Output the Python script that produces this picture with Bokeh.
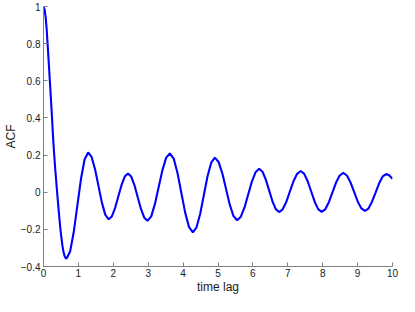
from bokeh.plotting import figure
from bokeh.models import FixedTicker, Range1d
from bokeh.embed import file_html
from bokeh.resources import INLINE

# ---- data ----
lag = [0.00, 0.03, 0.06, 0.09, 0.12, 0.15, 0.18, 0.21, 0.24, 0.27, 0.30, 0.33,
       0.36, 0.39, 0.42, 0.45, 0.48, 0.51, 0.54, 0.57, 0.60, 0.63, 0.66,
       0.763, 0.867, 0.970, 1.073, 1.177, 1.28,
       1.378, 1.477, 1.575, 1.673, 1.772, 1.87,
       1.962, 2.053, 2.145, 2.237, 2.328, 2.42,
       2.513, 2.607, 2.700, 2.793, 2.887, 2.98,
       3.087, 3.193, 3.300, 3.407, 3.513, 3.62,
       3.73, 3.84, 3.95, 4.06, 4.17, 4.28,
       4.385, 4.49, 4.595, 4.70, 4.805, 4.91,
       5.017, 5.123, 5.230, 5.337, 5.443, 5.55,
       5.655, 5.76, 5.865, 5.97, 6.075, 6.18,
       6.275, 6.37, 6.465, 6.56, 6.655, 6.75,
       6.853, 6.957, 7.06, 7.163, 7.267, 7.37,
       7.47, 7.57, 7.67, 7.77, 7.87, 7.97,
       8.073, 8.177, 8.28, 8.383, 8.487, 8.59,
       8.693, 8.797, 8.90, 9.003, 9.107, 9.21,
       9.312, 9.413, 9.515, 9.617, 9.718, 9.82,
       9.91, 10.0]
acf = [1.000, 0.985, 0.945, 0.880, 0.790, 0.700, 0.605, 0.510, 0.415, 0.310, 0.220, 0.140,
       0.070, 0.000, -0.065, -0.130, -0.190, -0.240, -0.285, -0.318, -0.341, -0.354, -0.357,
       -0.319, -0.214, -0.072, 0.071, 0.176, 0.214,
       0.190, 0.124, 0.034, -0.056, -0.122, -0.146,
       -0.129, -0.084, -0.022, 0.039, 0.084, 0.101,
       0.084, 0.037, -0.027, -0.090, -0.137, -0.154,
       -0.130, -0.063, 0.028, 0.118, 0.185, 0.209,
       0.181, 0.103, -0.004, -0.110, -0.188, -0.216,
       -0.189, -0.116, -0.015, 0.086, 0.159, 0.186,
       0.163, 0.102, 0.018, -0.067, -0.128, -0.151,
       -0.132, -0.082, -0.012, 0.057, 0.107, 0.126,
       0.110, 0.068, 0.010, -0.049, -0.091, -0.107,
       -0.092, -0.052, 0.004, 0.059, 0.099, 0.114,
       0.099, 0.059, 0.004, -0.051, -0.091, -0.106,
       -0.092, -0.0535, -0.001, 0.052, 0.090, 0.104,
       0.090, 0.053, 0.002, -0.050, -0.087, -0.101,
       -0.088, -0.051, -0.002, 0.048, 0.085, 0.098,
       0.090, 0.073]

x_ticks = [0, 1, 2, 3, 4, 5, 6, 7, 8, 9, 10]
x_tick_labels = ["0", "1", "2", "3", "4", "5", "6", "7", "8", "9", "10"]
y_ticks = [-0.4, -0.2, 0, 0.2, 0.4, 0.6, 0.8, 1]
y_tick_labels = ["\u22120.4", "\u22120.2", "0", "0.2", "0.4", "0.6", "0.8", "1"]

p = figure(width=399, height=296, output_backend="svg", toolbar_location=None,
           x_range=Range1d(0, 10), y_range=Range1d(-0.4, 1),
           min_border_top=6, min_border_right=7, min_border_left=0, min_border_bottom=0)

p.line(lag, acf, line_color="#0000ff", line_width=2.1)

p.grid.visible = False
p.outline_line_color = None
p.background_fill_color = "white"
p.border_fill_color = "white"

for ax, ticks, labels in ((p.xaxis, x_ticks, x_tick_labels), (p.yaxis, y_ticks, y_tick_labels)):
    ax.ticker = FixedTicker(ticks=ticks)
    ax.major_label_overrides = {t: l for t, l in zip(ticks, labels)}
    ax.axis_line_color = "#7f7f7f"
    ax.major_tick_line_color = "#7f7f7f"
    ax.major_tick_in = 4
    ax.major_tick_out = 0
    ax.minor_tick_line_color = None
    ax.major_label_text_font = "Liberation Sans"
    ax.major_label_text_font_size = "10px"
    ax.major_label_text_color = "#1a1a1a"
    ax.axis_label_text_font = "Liberation Sans"
    ax.axis_label_text_font_size = "12px"
    ax.axis_label_text_font_style = "normal"
    ax.axis_label_text_color = "#1a1a1a"
    ax.major_label_standoff = 3
    ax.axis_label_standoff = 0

p.xaxis.major_label_standoff = 2

p.xaxis.axis_label = "time lag"
p.yaxis.axis_label = "ACF"

open("out.html", "w").write(file_html(p, INLINE))
